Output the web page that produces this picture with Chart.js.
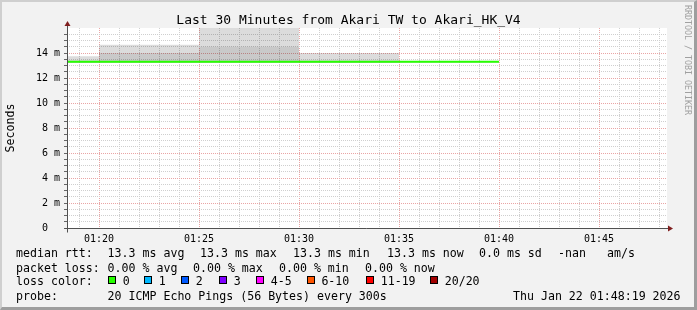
<!DOCTYPE html>
<html>
<head>
<meta charset="utf-8">
<title>Last 30 Minutes from Akari TW to Akari_HK_V4</title>
<script src="https://cdn.jsdelivr.net/npm/chart.js@4.4.1/dist/chart.umd.min.js"></script>
<style>
  html, body { margin: 0; padding: 0; }
  body {
    width: 697px; height: 310px; position: relative; overflow: hidden;
    background: #f2f2f2; color: #000;
    font-family: "DejaVu Sans Mono", monospace;
  }
  #frame {
    position: absolute; left: 0; top: 0; width: 697px; height: 310px; box-sizing: border-box;
    border-top: 2px solid #cfcfcf; border-left: 2px solid #cfcfcf;
    border-right: 3px solid #9e9e9e; border-bottom: 3px solid #9e9e9e;
  }
  #chart { position: absolute; left: 0; top: 0; }
  #title {
    position: absolute; left: 0; top: 13px; width: 697px; text-align: center;
    font-size: 13px; line-height: 13px; white-space: pre;
  }
  .t { position: absolute; font-size: 11.6px; line-height: 11.6px; white-space: pre; }
  .box { position: absolute; width: 6px; height: 6px; border: 1px solid #000; }
  #mark {
    position: absolute; left: 683px; top: 5px; writing-mode: vertical-rl;
    font-size: 8.3px; line-height: 9px; color: #a0a0a0; white-space: pre;
  }
</style>
</head>
<body>
<div id="frame"></div>
<canvas id="chart" width="697" height="310"></canvas>
<div id="title">Last 30 Minutes from Akari TW to Akari_HK_V4</div>
<div id="mark">RRDTOOL / TOBI OETIKER</div>
<div id="legend"></div>
<script>
// time window of the graph
const viewStart = '01:18:24';
const viewEnd = '01:48:24';

// 5 minute bins (start times) and the end of the last bin
const binStarts = ['01:15', '01:20', '01:25', '01:30', '01:35'];
const binEnd = '01:40';

// values in ms, one per bin
const medianRtt = [13.3, 13.3, 13.3, 13.3, 13.3];
const smokeLow = [13.2, 13.2, 13.2, 13.2, 13.25];
const smokeInner = [13.38, 14.0, 14.5, 13.38, 13.3];
const smokeOuter = [13.75, 14.66, 16.8, 14.0, 13.35];

// legend texts
const rttStats = ['13.3', '13.3', '13.3', '13.3'];
const rttSd = '0.0';
const lossStats = ['0.00', '0.00', '0.00', '0.00'];
const statNames = ['avg', 'max', 'min', 'now'];
const lossLabels = ['0', '1', '2', '3', '4-5', '6-10', '11-19', '20/20'];
const lossColors = ['#26ff00', '#00b8ff', '#0059ff', '#7e00ff', '#ff00ff', '#ff5500', '#ff0000', '#a10000'];
const probeText = '20 ICMP Echo Pings (56 Bytes) every 300s';
const stampText = 'Thu Jan 22 01:48:19 2026';

function toSec(t) {
    const p = t.split(':').map(Number);
    return p[0] * 3600 + p[1] * 60 + (p[2] || 0);
}
function fmtTime(s) {
    const h = Math.floor(s / 3600), m = Math.floor((s % 3600) / 60);
    return String(h).padStart(2, '0') + ':' + String(m).padStart(2, '0');
}
function series(vals) {
    const pts = binStarts.map((t, i) => ({ x: toSec(t), y: vals[i] }));
    pts.push({ x: toSec(binEnd), y: vals[vals.length - 1] });
    return pts;
}

// legend rows
const legend = document.getElementById('legend');
function addText(x, y, str) {
    const el = document.createElement('div');
    el.className = 't';
    el.style.left = x + 'px';
    el.style.top = y + 'px';
    el.textContent = str;
    legend.appendChild(el);
}
const rowTop = [248.4, 263.1, 276.1, 291.1];
addText(16, rowTop[0], 'median rtt:');
[107.6, 200, 293, 387].forEach((x, i) => addText(x, rowTop[0], rttStats[i] + ' ms ' + statNames[i]));
addText(479, rowTop[0], rttSd + ' ms sd');
addText(558, rowTop[0], '-nan');
addText(607, rowTop[0], 'am/s');

addText(16, rowTop[1], 'packet loss:');
[107.6, 193, 279, 365].forEach((x, i) => addText(x, rowTop[1], lossStats[i] + ' % ' + statNames[i]));

addText(16, rowTop[2], 'loss color:');
const boxX = [108, 144, 181, 219, 256, 306.7, 366, 430];
lossLabels.forEach((lab, i) => {
    const b = document.createElement('div');
    b.className = 'box';
    b.style.left = boxX[i] + 'px';
    b.style.top = '276px';
    b.style.background = lossColors[i];
    legend.appendChild(b);
    addText(boxX[i] + 14.7, rowTop[2], lab);
});

addText(16, rowTop[3], 'probe:');
addText(107.6, rowTop[3], probeText);
addText(513, rowTop[3], stampText);

// white canvas, axis lines and arrows
const plotFrame = {
    id: 'plotFrame',
    beforeDraw(chart) {
        const { ctx, chartArea: a } = chart;
        ctx.save();
        ctx.fillStyle = '#ffffff';
        ctx.fillRect(a.left, a.top, a.right - a.left, a.bottom - a.top);
        ctx.restore();
    },
    afterDraw(chart) {
        const { ctx, chartArea: a } = chart;
        const x0 = Math.round(a.left) + 0.5, y0 = Math.round(a.bottom) + 0.5;
        ctx.save();
        ctx.strokeStyle = '#505050';
        ctx.lineWidth = 1;
        ctx.beginPath();
        ctx.moveTo(x0, y0 + 4);
        ctx.lineTo(x0, a.top - 3);
        ctx.moveTo(x0 - 3, y0);
        ctx.lineTo(a.right + 2, y0);
        ctx.stroke();
        ctx.fillStyle = '#801f1f';
        ctx.beginPath();
        ctx.moveTo(x0 - 3, a.top - 2);
        ctx.lineTo(x0 + 3, a.top - 2);
        ctx.lineTo(x0, a.top - 7);
        ctx.closePath();
        ctx.fill();
        ctx.beginPath();
        ctx.moveTo(a.right + 1, y0 - 3);
        ctx.lineTo(a.right + 1, y0 + 3);
        ctx.lineTo(a.right + 6, y0);
        ctx.closePath();
        ctx.fill();
        ctx.restore();
    }
};

const minorGrid = '#cfcfcf';
const majorGrid = '#eaa5a5';
const tickFont = { family: 'DejaVu Sans Mono', size: 10 };

new Chart(document.getElementById('chart').getContext('2d'), {
    type: 'line',
    data: {
        datasets: [
            { data: series(smokeLow), borderWidth: 0, borderColor: 'transparent', fill: false, order: 3 },
            { data: series(smokeOuter), borderWidth: 0, borderColor: 'transparent',
              backgroundColor: 'rgba(0,0,0,0.137)', fill: { target: 0 }, order: 2 },
            { data: series(smokeInner), borderWidth: 0, borderColor: 'transparent',
              backgroundColor: 'rgba(0,0,0,0.082)', fill: { target: 0 }, order: 1 },
            { data: series(medianRtt), borderWidth: 2, borderColor: lossColors[0], fill: false, order: 0 }
        ]
    },
    options: {
        responsive: false,
        devicePixelRatio: 1,
        animation: false,
        events: [],
        layout: { padding: { left: 0, right: 30, top: 28, bottom: 0 } },
        elements: { point: { radius: 0 }, line: { stepped: true, tension: 0 } },
        plugins: { legend: { display: false }, title: { display: false }, tooltip: { enabled: false } },
        scales: {
            x: {
                type: 'linear',
                min: toSec(viewStart),
                max: toSec(viewEnd),
                afterFit: s => { s.height = 82; },
                afterBuildTicks: s => {
                    const t = [];
                    for (let v = Math.floor(s.min / 60) * 60 + 60; v < s.max; v += 60) t.push({ value: v });
                    s.ticks = t;
                },
                grid: {
                    drawTicks: false,
                    color: c => (c.tick && c.tick.value % 300 === 0 ? majorGrid : minorGrid)
                },
                border: { display: false, dash: [1, 1] },
                ticks: {
                    autoSkip: false, maxRotation: 0, padding: 5, color: '#000', font: tickFont,
                    callback: v => (v % 300 === 0 ? fmtTime(v) : '')
                }
            },
            y: {
                min: 0,
                max: 16,
                afterFit: s => { s.width = 67; },
                afterBuildTicks: s => {
                    const t = [];
                    for (let v = 0; v < 16; v += 0.5) t.push({ value: v });
                    s.ticks = t;
                },
                grid: {
                    tickLength: 3,
                    tickColor: '#666',
                    color: c => (c.tick && c.tick.value % 2 === 0 ? majorGrid : minorGrid)
                },
                border: { display: false, dash: [1, 1] },
                ticks: {
                    autoSkip: false, padding: 4, color: '#000', font: tickFont,
                    callback: v => (v % 2 !== 0 ? '' : (v === 0 ? '0  ' : v + ' m'))
                },
                title: {
                    display: true, text: 'Seconds', color: '#000',
                    font: { family: 'DejaVu Sans Mono', size: 11.6 },
                    padding: { top: 4, bottom: 0 }
                }
            }
        }
    },
    plugins: [plotFrame]
});
</script>
</body>
</html>
